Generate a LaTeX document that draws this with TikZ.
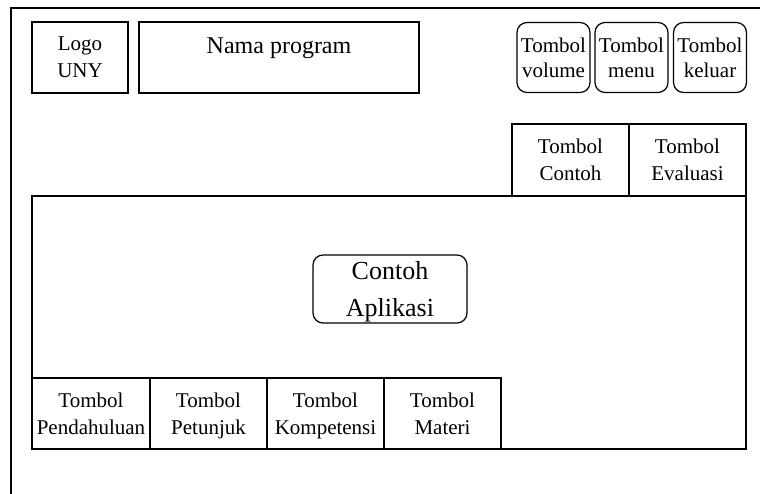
\documentclass[tikz,border=0pt]{standalone}
\usepackage{fontspec}
\setmainfont{Liberation Serif}
\tikzset{
  kotak/.style={draw,line width=1.2pt,rectangle,inner sep=2pt,align=center,
    text depth=0pt,font=\fontsize{21}{27}\selectfont},
  tombol/.style={kotak,rounded corners=10pt,font=\fontsize{21}{25}\selectfont}
}
\begin{document}
\begin{tikzpicture}[x=1pt,y=-1pt]
            \useasboundingbox (0,0) rectangle (760,494);
            \draw[line width=1.2pt] (11,494) -- (11,8) -- (760,8);
            % header
            \node[kotak,minimum width=96pt,minimum height=71pt] (logo) at(80,57.5){Logo\\UNY};
            \node[kotak,minimum width=280pt,minimum height=71pt] (nama) at(279,57.5){};
            \node[anchor=north,font=\fontsize{24}{28}\selectfont] (judul) at([yshift=-13pt]nama.north){Nama program};
            \node[tombol,minimum width=73pt,minimum height=70pt,text depth=-3pt] (volume) at(553.5,57.5){Tombol\\volume};
            \node[tombol,minimum width=73pt,minimum height=70pt,text depth=-3pt] (menu) at(631.5,57.5){Tombol\\menu};
            \node[tombol,minimum width=73pt,minimum height=70pt,text depth=-3pt] (keluar) at(710,57.5){Tombol\\keluar};
            % layar isi
            \node[kotak,minimum width=714pt,minimum height=253pt] (layar) at(389,322.5){};
            \node[kotak,minimum width=117pt,minimum height=72pt] (contoh) at(570.5,160){Tombol\\Contoh};
            \node[kotak,minimum width=117pt,minimum height=72pt] (evaluasi) at(687.5,160){Tombol\\Evaluasi};
            \node[tombol,minimum width=154pt,minimum height=68pt,font=\fontsize{26}{37}\selectfont] (aplikasi) at(390,289){Contoh\\Aplikasi};
            % tombol bawah
            \node[kotak,minimum width=118pt,minimum height=71pt] (pendahuluan) at(91,413.5){Tombol\\Pendahuluan};
            \node[kotak,minimum width=117pt,minimum height=71pt] (petunjuk) at(208.5,413.5){Tombol\\Petunjuk};
            \node[kotak,minimum width=117pt,minimum height=71pt] (kompetensi) at(325.5,413.5){Tombol\\Kompetensi};
            \node[kotak,minimum width=117pt,minimum height=71pt] (materi) at(442.5,413.5){Tombol\\Materi};
        \end{tikzpicture}
\end{document}
